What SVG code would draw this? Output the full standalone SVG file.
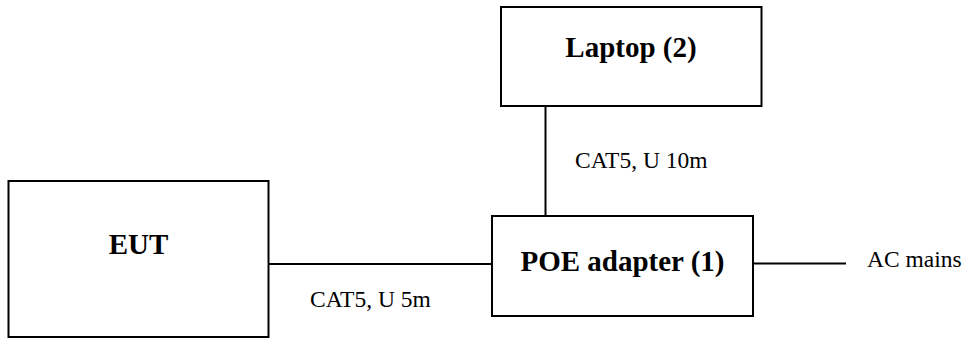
<svg xmlns="http://www.w3.org/2000/svg" width="965" height="338" viewBox="0 0 965 338">
  <style>
    .box { fill: #ffffff; stroke: #000000; stroke-width: 2; }
    .wire { stroke: #000000; stroke-width: 2; fill: none; }
    .title { font-family: "Liberation Serif", "Times New Roman", serif; font-weight: bold; font-size: 29px; text-anchor: middle; fill: #000000; }
    .note { font-family: "Liberation Serif", "Times New Roman", serif; font-size: 23.5px; fill: #000000; }
  </style>
  <rect width="965" height="338" fill="#ffffff"/>

  <!-- cabling -->
  <g id="connectors">
    <line class="wire" x1="269" y1="264" x2="492" y2="264"/>
    <line class="wire" x1="545.5" y1="106" x2="545.5" y2="216" stroke-width="1.5"/>
    <line class="wire" x1="753" y1="263.5" x2="846" y2="263.5"/>
    <text class="note" x="310" y="307">CAT5, U 5m</text>
    <text class="note" x="575" y="168">CAT5, U 10m</text>
    <text class="note" x="867" y="267">AC mains</text>
  </g>

  <g id="eut">
    <rect class="box" x="8.5" y="181" width="260" height="156"/>
    <text class="title" x="138.5" y="254">EUT</text>
  </g>

  <g id="laptop">
    <rect class="box" x="501" y="7" width="260.5" height="99"/>
    <text class="title" x="631" y="57">Laptop (2)</text>
  </g>

  <g id="poe-adapter">
    <rect class="box" x="492" y="216" width="261" height="100"/>
    <text class="title" x="622.5" y="271">POE adapter (1)</text>
  </g>
</svg>
